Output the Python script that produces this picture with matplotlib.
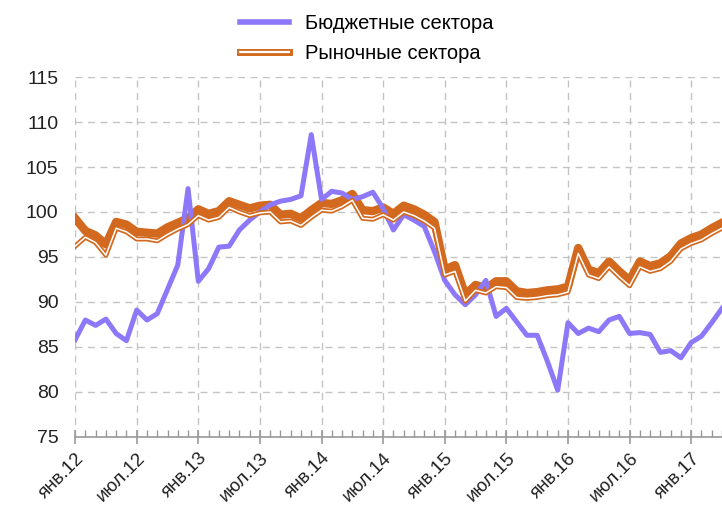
import numpy as np
import matplotlib
matplotlib.use("Agg")
import matplotlib.pyplot as plt
from matplotlib.lines import Line2D
from matplotlib.ticker import FixedLocator

plt.rcParams['font.family'] = ['Liberation Sans', 'DejaVu Sans']

# monthly data, Jan 2012 .. Apr 2017
budget = [85.8, 88.0, 87.4, 88.1, 86.5, 85.7, 89.1, 88.0, 88.7, 91.4,
          94.1, 102.6, 92.3, 93.7, 96.1, 96.2, 98.0, 99.1, 100.0, 100.8,
          101.2, 101.4, 101.8, 108.6, 101.4, 102.3, 102.1, 101.4, 101.7, 102.2,
          100.4, 98.0, 99.7, 99.1, 98.4, 95.6, 92.4, 90.8, 89.7, 90.8,
          92.4, 88.4, 89.3, 87.8, 86.3, 86.3, 83.4, 80.2, 87.7, 86.5,
          87.1, 86.7, 88.0, 88.4, 86.5, 86.6, 86.4, 84.4, 84.6, 83.8,
          85.5, 86.2, 87.7, 89.3]
market_bold = [99.3, 97.9, 97.4, 96.4, 98.9, 98.6, 97.8, 97.7, 97.6, 98.3,
               98.8, 99.3, 100.3, 99.8, 100.1, 101.2, 100.8, 100.4, 100.7, 100.8,
               99.7, 99.8, 99.3, 100.2, 101.0, 100.9, 101.3, 102.0, 100.2, 100.1,
               100.5, 99.8, 100.7, 100.3, 99.7, 98.9, 93.6, 94.1, 90.8, 91.9,
               91.5, 92.3, 92.3, 91.2, 91.0, 91.1, 91.3, 91.4, 91.7, 96.0,
               93.6, 93.2, 94.5, 93.4, 92.4, 94.5, 94.0, 94.3, 95.1, 96.5,
               97.1, 97.5, 98.2, 98.8]
market = [96.2, 97.2, 96.6, 95.2, 98.2, 97.8, 97.0, 97.0, 96.8, 97.5,
          98.1, 98.6, 99.6, 99.1, 99.4, 100.5, 100.0, 99.6, 99.9, 100.0,
          98.9, 99.0, 98.5, 99.4, 100.2, 100.1, 100.6, 101.3, 99.3, 99.2,
          99.7, 99.1, 100.0, 99.6, 99.0, 98.2, 93.0, 93.4, 90.1, 91.3,
          91.0, 91.7, 91.6, 90.5, 90.4, 90.5, 90.7, 90.8, 91.1, 95.4,
          93.0, 92.6, 93.9, 92.8, 91.8, 93.9, 93.4, 93.7, 94.5, 95.9,
          96.5, 96.9, 97.6, 98.2]
tick_labels = ['янв.12', 'июл.12', 'янв.13', 'июл.13', 'янв.14', 'июл.14',
               'янв.15', 'июл.15', 'янв.16', 'июл.16', 'янв.17']

purple = '#8C78F8'
orange = '#D2691E'

x = np.arange(len(budget))

fig = plt.figure(figsize=(7.22, 5.12), dpi=100)
ax = fig.add_axes([0.104, 0.1465, 0.896, 0.7031])

ax.plot(x, market_bold, color=orange, lw=6.0, solid_joinstyle='round', zorder=3)
ax.plot(x, budget, color=purple, lw=3.6, solid_joinstyle='round', zorder=4)
ax.plot(x, market, color=orange, lw=3.6, solid_joinstyle='round', zorder=5)
ax.plot(x, market, color='white', lw=1.1, solid_joinstyle='round', zorder=6)

ax.set_xlim(0, 63)
ax.set_ylim(75, 115)
ax.set_yticks(np.arange(75, 116, 5))
ax.xaxis.set_major_locator(FixedLocator(np.arange(0, 61, 6)))
ax.xaxis.set_minor_locator(FixedLocator(np.arange(0, 64, 1)))
ax.set_xticklabels(tick_labels, rotation=45, ha='right', rotation_mode='anchor')

ax.grid(True, which='major', color='#C4C4C4', ls=(0, (5, 4)), lw=1.0)
for s in ['left', 'right', 'top']:
    ax.spines[s].set_visible(False)
ax.spines['bottom'].set_color('#999999')
ax.spines['bottom'].set_linewidth(1.2)
ax.tick_params(axis='y', length=0, labelsize=14, pad=12, colors='#222222')
ax.tick_params(axis='x', which='major', direction='inout', length=10,
               color='#999999', width=1.2, labelsize=13.5, pad=4, labelcolor='#222222')
ax.tick_params(axis='x', which='minor', direction='in', length=5,
               color='#999999', width=1.0)

h_budget = Line2D([], [], color=purple, lw=4.0)
h_market = (Line2D([], [], color=orange, lw=5.0), Line2D([], [], color='white', lw=1.6))
fig.legend([h_budget, h_market], ['Бюджетные сектора', 'Рыночные сектора'],
           loc='upper center', bbox_to_anchor=(0.508, 1.008), frameon=False,
           fontsize=14.5, handlelength=2.4, labelspacing=0.55, handletextpad=0.8)

fig.savefig('out.png', dpi=100)
